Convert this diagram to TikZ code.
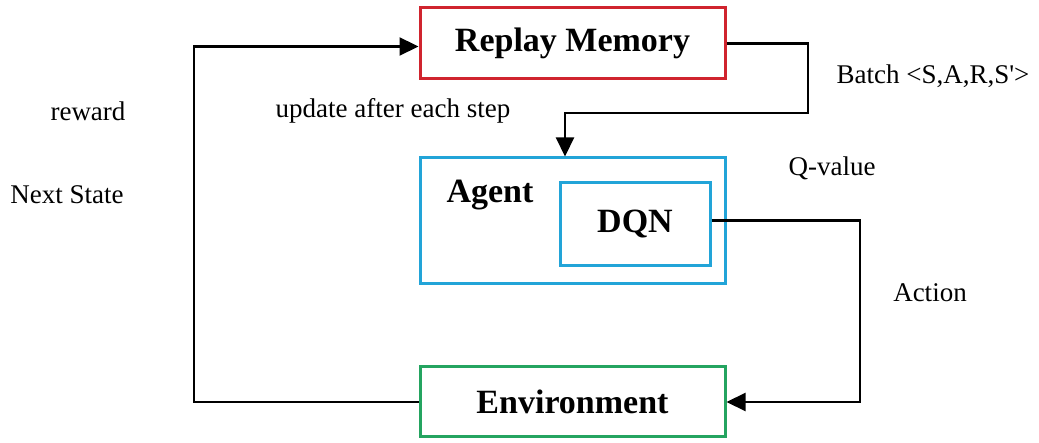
\documentclass[tikz,border=0pt]{standalone}
\usepackage{fontspec}
\setmainfont{Liberation Serif}
\usetikzlibrary{arrows.meta}
\definecolor{memred}{RGB}{208,36,46}
\definecolor{agentblue}{RGB}{34,164,216}
\definecolor{envgreen}{RGB}{36,164,96}
\tikzset{
  box/.style={draw, line width=3pt, fill=white, inner sep=0pt,
    font=\fontsize{34}{40}\selectfont\bfseries},
  lbl/.style={inner sep=0pt, font=\fontsize{27}{32}\selectfont},
  conn/.style={draw=black, line width=2.2pt,
    -{Triangle[length=19pt,width=18pt]}},
}
\begin{document}
\begin{tikzpicture}[x=1pt,y=-1pt]
\useasboundingbox (0,0) rectangle (1039,443);
% main blocks
\node[box, draw=memred, minimum width=305pt, minimum height=71pt] (replay) at (572.5,43.5) {Replay Memory};
\node[box, draw=agentblue, minimum width=305pt, minimum height=126pt] (agent) at (572.5,221) {};
\node[box, draw=agentblue, minimum width=150pt, minimum height=83pt] (dqn) at (635,224.5) {DQN};
\node[font=\fontsize{34}{40}\selectfont\bfseries, inner sep=0pt] (agentlbl) at (490,195) {Agent};
\node[box, draw=envgreen, minimum width=305pt, minimum height=70pt] (env) at (572.5,402) {Environment};
% route corners
\coordinate (lx) at (194,0);
\coordinate (bx) at (808,113);
\coordinate (ax) at (860,0);
% connectors
\draw[conn] (env.west) -- (env.west -| lx) |- ([yshift=-3pt]replay.west);
\draw[conn] (replay.east) -| (bx) -| ([xshift=-7.5pt]agent.north);
\draw[conn] ([yshift=4pt]dqn.east) -- ([yshift=4pt]dqn.east -| ax) |- (env.east);
% labels
\node[lbl] (reward) at (88,111) {reward};
\node[lbl] (next) at (67,195) {Next State};
\node[lbl] (update) at (393,111) {update after each step};
\node[lbl] (batch) at (933,76) {Batch <S,A,R,S\textquotesingle>};
\node[lbl] (qval) at (832,168) {Q-value};
\node[lbl] (action) at (930,293) {Action};
\end{tikzpicture}
\end{document}
